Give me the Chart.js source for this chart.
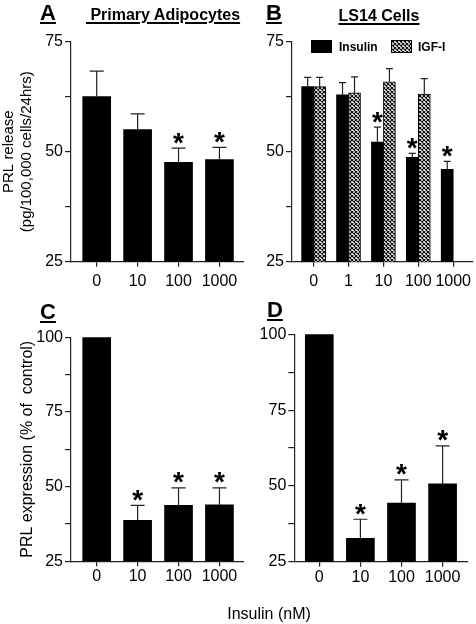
<!DOCTYPE html>
<html><head><meta charset="utf-8">
<script src="https://cdn.jsdelivr.net/npm/chart.js@4"></script>
<style>
html,body{margin:0;padding:0;background:#fff;}
body{width:476px;height:624px;position:relative;overflow:hidden;font-family:'Liberation Sans',Arial,sans-serif;color:#000;}
canvas.cv{position:absolute;}
.t{position:absolute;white-space:nowrap;line-height:1;}
.b{font-weight:bold;}
.u{text-decoration:underline;text-decoration-thickness:1.5px;text-underline-offset:2px;}
.c{transform:translateX(-50%);}
</style></head><body>
<canvas class="cv" id="cA" width="244" height="300" style="left:0;top:0"></canvas>
<canvas class="cv" id="cB" width="240" height="300" style="left:236px;top:0"></canvas>
<canvas class="cv" id="cC" width="244" height="290" style="left:0;top:300px"></canvas>
<canvas class="cv" id="cD" width="240" height="290" style="left:236px;top:300px"></canvas>

<div class="t b u" style="left:40px;top:2px;font-size:22px">A</div>
<div class="t b u c" style="left:163px;top:7px;font-size:16px">&nbsp;Primary Adipocytes</div>
<div class="t b u" style="left:266px;top:2px;font-size:22px">B</div>
<div class="t b u c" style="left:379px;top:8px;font-size:16px">LS14 Cells</div>
<div class="t b u" style="left:40px;top:301px;font-size:22px">C</div>
<div class="t b u" style="left:267px;top:299px;font-size:22px">D</div>

<div style="position:absolute;left:311px;top:40px;width:21px;height:13px;background:#000"></div>
<div class="t b" style="left:339px;top:41px;font-size:12px">Insulin</div>
<canvas id="igfSwatch" width="21" height="13" style="position:absolute;left:391px;top:40px"></canvas>
<div class="t b" style="left:418px;top:41px;font-size:12px">IGF-I</div>

<div class="t c" style="left:269px;top:606px;font-size:16px">Insulin (nM)</div>

<script>
// ---------- data ----------
const catsA = ['0', '10', '100', '1000'];
const releaseA = [62.5, 55.0, 47.6, 48.2];
const releaseAErr = [5.8, 3.6, 3.2, 2.8];
const releaseASig = [false, false, true, true];

const catsB = ['0', '1', '10', '100', '1000'];
const insulinB = [64.8, 62.9, 52.2, 48.7, 46.0];
const insulinBErr = [2.1, 2.8, 3.4, 0.9, 1.8];
const insulinBSig = [false, false, true, true, true];
const igfB = [64.8, 63.4, 65.9, 63.1, null];
const igfBErr = [2.1, 3.6, 3.0, 3.5, null];
const igfBSig = [false, false, false, false, false];

const catsC = ['0', '10', '100', '1000'];
const exprC = [100, 38.7, 43.7, 43.9];
const exprCErr = [0, 5.0, 5.9, 5.7];
const exprCSig = [false, true, true, true];

const catsD = ['0', '10', '100', '1000'];
const exprD = [100, 32.7, 44.3, 50.7];
const exprDErr = [0, 6.3, 7.7, 12.5];
const exprDSig = [false, true, true, true];

const yLabelsTop = [25, 50, 75];
const yLabelsBottom = [25, 50, 75, 100];

// ---------- styling ----------
const FONT = "'Liberation Sans', Arial, sans-serif";
const AX = '#222';
const TICK_SIZE = 16;

function makeHatch() {
  const s = 4;
  const c = document.createElement('canvas');
  c.width = s; c.height = s;
  const g = c.getContext('2d');
  g.fillStyle = '#fff'; g.fillRect(0, 0, s, s);
  g.strokeStyle = '#000'; g.lineWidth = 1.1;
  g.beginPath();
  for (let k = -s; k <= s; k += s) {
    g.moveTo(k, 0); g.lineTo(k + s, s);
    g.moveTo(k + s, 0); g.lineTo(k, s);
  }
  g.stroke();
  return c;
}
const hatchTile = makeHatch();

// legend swatch
(function () {
  const sw = document.getElementById('igfSwatch');
  const g = sw.getContext('2d');
  g.fillStyle = g.createPattern(hatchTile, 'repeat');
  g.fillRect(0, 0, sw.width, sw.height);
  g.strokeStyle = '#000'; g.lineWidth = 1;
  g.strokeRect(0.5, 0.5, sw.width - 1, sw.height - 1);
})();

const errorBarPlugin = {
  id: 'errorBars',
  afterDatasetsDraw(chart) {
    const ctx = chart.ctx;
    const ys = chart.scales.y;
    chart.data.datasets.forEach((ds, di) => {
      const meta = chart.getDatasetMeta(di);
      meta.data.forEach((bar, i) => {
        const pt = ds.data[i];
        if (!pt || pt.y == null) return;
        const e = ds.errors ? ds.errors[i] : 0;
        const top = ys.getPixelForValue(pt.y + (e || 0));
        ctx.save();
        if (e) {
          ctx.strokeStyle = AX; ctx.lineWidth = 1.2;
          const hw = Math.max(3.5, bar.width * 0.25);
          ctx.beginPath();
          ctx.moveTo(bar.x, bar.y); ctx.lineTo(bar.x, top);
          ctx.moveTo(bar.x - hw, top); ctx.lineTo(bar.x + hw, top);
          ctx.stroke();
        }
        if (ds.sig && ds.sig[i]) {
          ctx.font = 'bold 28px ' + FONT;
          ctx.fillStyle = '#000';
          ctx.textAlign = 'center';
          ctx.textBaseline = 'alphabetic';
          const m = ctx.measureText('*');
          const cy = top - 10;
          ctx.fillText('*', bar.x, cy + (m.actualBoundingBoxAscent - m.actualBoundingBoxDescent) / 2);
        }
        ctx.restore();
      });
    });
  }
};

function yAxis(min, max, labeled, width, title) {
  return {
    type: 'linear', min: min, max: max, bounds: 'data',
    afterFit: s => { s.width = width; },
    ticks: {
      stepSize: 12.5, autoSkip: false, padding: 2, color: '#000',
      font: { family: FONT, size: TICK_SIZE },
      callback: v => labeled.includes(v) ? String(v) : ''
    },
    grid: { drawOnChartArea: false, drawTicks: true, tickLength: 6, color: AX, lineWidth: 1.2 },
    border: { display: true, color: AX, width: 1.2 },
    title: title || { display: false }
  };
}

function xAxis(cats, min, max, height, pad) {
  return {
    type: 'linear', min: min, max: max, bounds: 'data', offset: false,
    afterBuildTicks: s => { s.ticks = cats.map((c, i) => ({ value: i })); },
    afterFit: s => { s.height = height; },
    ticks: {
      autoSkip: false, maxRotation: 0, padding: pad, color: '#000',
      font: { family: FONT, size: TICK_SIZE },
      callback: v => (cats[v] !== undefined ? cats[v] : '')
    },
    grid: { drawOnChartArea: false, drawTicks: true, tickLength: 5, color: AX, lineWidth: 1.2, offset: false },
    border: { display: true, color: AX, width: 1.2 }
  };
}

function toPoints(cats, vals) {
  return cats.map((c, i) => ({ x: i, y: vals[i] }));
}

function makeChart(id, datasets, x, y, padding) {
  return new Chart(document.getElementById(id), {
    type: 'bar',
    data: { datasets: datasets },
    options: {
      responsive: false, animation: false,
      layout: { padding: padding },
      plugins: { legend: { display: false }, tooltip: { enabled: false } },
      scales: { x: x, y: y }
    },
    plugins: [errorBarPlugin]
  });
}

// Panel A
makeChart('cA', [{
  label: 'Insulin', data: toPoints(catsA, releaseA), errors: releaseAErr, sig: releaseASig,
  backgroundColor: '#000', borderWidth: 0, barThickness: 28
}],
  xAxis(catsA, -0.628, 3.6, 38.3, 5),
  yAxis(25, 75, yLabelsTop, 71, {
    display: true, text: ['PRL release', '(pg/100,000 cells/24hrs)'],
    color: '#000', font: { family: FONT, size: 15 }, padding: { top: 0, bottom: 0 }
  }),
  { top: 41.7, right: 0, left: 0, bottom: 0 });

// Panel B
makeChart('cB', [
  {
    label: 'Insulin', data: toPoints(catsB, insulinB), errors: insulinBErr, sig: insulinBSig,
    backgroundColor: '#000', borderColor: '#000', borderWidth: 0, barThickness: 12
  },
  {
    label: 'IGF-I', data: toPoints(catsB, igfB), errors: igfBErr, sig: igfBSig,
    backgroundColor: (ctx) => ctx.chart.ctx.createPattern(hatchTile, 'repeat'),
    borderColor: '#000', borderWidth: 1, barThickness: 12
  }
],
  xAxis(catsB, -0.62, 4.56, 38.3, 5),
  yAxis(25, 75, yLabelsTop, 56, null),
  { top: 41.7, right: 0, left: 0, bottom: 0 });

// Panel C
makeChart('cC', [{
  label: 'Insulin', data: toPoints(catsC, exprC), errors: exprCErr, sig: exprCSig,
  backgroundColor: '#000', borderWidth: 0, barThickness: 28
}],
  xAxis(catsC, -0.628, 3.6, 28.7, 1),
  yAxis(25, 100, yLabelsBottom, 71, {
    display: true, text: 'PRL expression (% of  control)',
    color: '#000', font: { family: FONT, size: 16 }, padding: { top: 18, bottom: 0 }
  }),
  { top: 37.3, right: 0, left: 0, bottom: 0 });

// Panel D
makeChart('cD', [{
  label: 'Insulin', data: toPoints(catsD, exprD), errors: exprDErr, sig: exprDSig,
  backgroundColor: '#000', borderWidth: 0, barThickness: 28
}],
  xAxis(catsD, -0.608, 3.618, 28.3, 1),
  yAxis(25, 100, yLabelsBottom, 58.3, null),
  { top: 34.3, right: 8, left: 0, bottom: 0 });
</script>
</body></html>
